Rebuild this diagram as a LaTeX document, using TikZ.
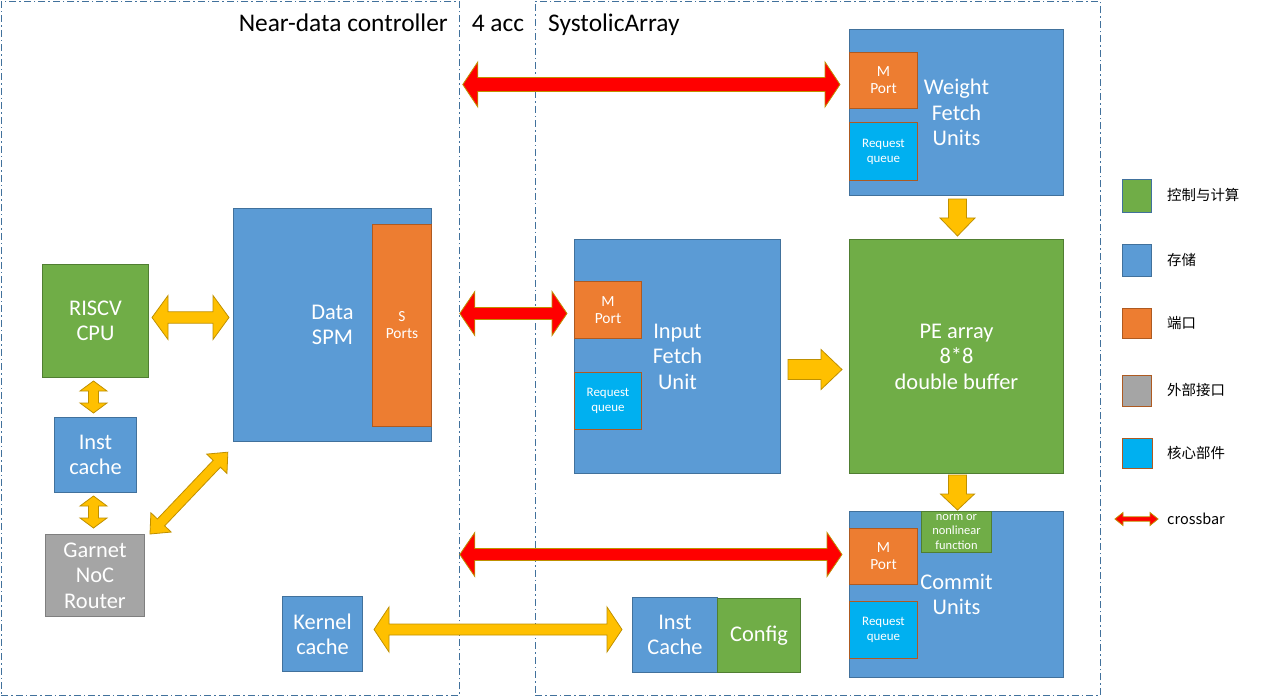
\documentclass[tikz,border=0pt]{standalone}
\usepackage{fontspec}
\setmainfont{Carlito}
\newfontfamily\cjk{Noto Sans CJK SC}
\usetikzlibrary{calc}
\definecolor{cblue}{HTML}{5B9BD5}
\definecolor{cblueb}{HTML}{41719C}
\definecolor{cgreen}{HTML}{70AD47}
\definecolor{cgreenb}{HTML}{507E32}
\definecolor{corange}{HTML}{ED7D31}
\definecolor{coranb}{HTML}{AE5A21}
\definecolor{cgray}{HTML}{A5A5A5}
\definecolor{cgrayb}{HTML}{7F7F7F}
\definecolor{ccyan}{HTML}{00B0F0}
\definecolor{cyel}{HTML}{FFC000}
\definecolor{cyelb}{HTML}{BF9000}
\definecolor{cred}{HTML}{FF0000}
\newcommand\dblarrow[6]{%
  \coordinate (bas) at (#2);
  \coordinate (bae) at (#3);
  \path let \p1=($(bae)-(bas)$) in \pgfextra{\pgfmathsetmacro\baang{atan2(\y1,\x1)}\pgfmathsetmacro\balen{veclen(\x1,\y1)}\global\let\gbaang\baang\global\let\gbalen\balen};
  \draw[#1, shift={(bas)}, rotate=\gbaang] (0pt,0pt) -- (#6bp,#5bp) -- (#6bp,#4bp) -- ({\gbalen pt-#6bp},#4bp) -- ({\gbalen pt-#6bp},#5bp) -- (\gbalen pt,0pt) -- ({\gbalen pt-#6bp},-#5bp) -- ({\gbalen pt-#6bp},-#4bp) -- (#6bp,-#4bp) -- (#6bp,-#5bp) -- cycle;
}
\newcommand\snglarrow[6]{%
  \coordinate (bas) at (#2);
  \coordinate (bae) at (#3);
  \path let \p1=($(bae)-(bas)$) in \pgfextra{\pgfmathsetmacro\baang{atan2(\y1,\x1)}\pgfmathsetmacro\balen{veclen(\x1,\y1)}\global\let\gbaang\baang\global\let\gbalen\balen};
  \draw[#1, shift={(bas)}, rotate=\gbaang] (0pt,#4bp) -- ({\gbalen pt-#6bp},#4bp) -- ({\gbalen pt-#6bp},#5bp) -- (\gbalen pt,0pt) -- ({\gbalen pt-#6bp},-#5bp) -- ({\gbalen pt-#6bp},-#4bp) -- (0pt,-#4bp) -- cycle;
}
\begin{document}
\begin{tikzpicture}[x=1bp,y=-1bp,
  box/.style={draw, line width=1bp, anchor=north west, inner sep=0pt, text=white, align=center, font=\fontsize{22.5}{25.5}\selectfont},
  bluebox/.style={box, fill=cblue, draw=cblueb},
  greenbox/.style={box, fill=cgreen, draw=cgreenb},
  orangebox/.style={box, fill=corange, draw=coranb},
  graybox/.style={box, fill=cgray, draw=cgrayb},
  cyanbox/.style={box, fill=ccyan, draw=coranb},
  portbox/.style={orangebox, font=\fontsize{15.5}{17}\selectfont},
  queuebox/.style={cyanbox, font=\fontsize{13}{15}\selectfont},
  smalltext/.style={inner sep=0pt, text=white, align=center, font=\fontsize{12.5}{14.5}\selectfont},
  region/.style={draw=cblueb, line width=0.8bp, dash pattern=on 7bp off 3bp on 1.5bp off 3bp, anchor=north west, inner sep=0pt},
  header/.style={inner sep=0pt, font=\fontsize{25.5}{28}\selectfont},
  legbox/.style={draw, line width=1bp, anchor=north west, inner sep=0pt},
  legtext/.style={inner sep=0pt, anchor=west, font=\cjk\fontsize{14.5}{17}\selectfont},
  yarrow/.style={fill=cyel, draw=cyelb, line width=0.8bp},
  rarrow/.style={fill=cred, draw=cyelb, line width=0.8bp}]
\useasboundingbox (0,0) rectangle (1275,696);
\fill[white] (0,0) rectangle (1275,696);
% regions
\node[region, minimum width=458bp, minimum height=694bp] (ndc) at (1,1) {};
\node[region, minimum width=565bp, minimum height=694bp] (sys) at (535,1) {};
\node[header, anchor=base east] (hndc) at (448,32) {Near-data controller};
\node[header, anchor=base] (hacc) at (498,32) {4 acc};
\node[header, anchor=base west] (hsys) at (548,32) {SystolicArray};
% near-data controller
\node[greenbox, minimum width=106bp, minimum height=113bp] (cpu) at (42,264) {RISCV\\CPU};
\node[bluebox, minimum width=82bp, minimum height=75bp] (icache) at (54,417) {Inst\\cache};
\node[graybox, minimum width=99bp, minimum height=82bp] (garnet) at (45,534) {Garnet\\NoC\\Router};
\node[bluebox, minimum width=198bp, minimum height=233bp] (spm) at (233,208) {Data\\SPM};
\node[portbox, minimum width=59bp, minimum height=202bp] (sport) at (372,224) {S\\Ports};
\node[bluebox, minimum width=80bp, minimum height=75bp] (kcache) at (282,596) {Kernel\\cache};
% systolic array
\node[bluebox, minimum width=214bp, minimum height=166bp] (wfu) at (849,29) {Weight\\Fetch\\Units};
\node[portbox, minimum width=68bp, minimum height=56bp] (wport) at (849,52) {M\\Port};
\node[queuebox, minimum width=68bp, minimum height=58bp] (wq) at (849,122) {Request\\queue};
\node[greenbox, minimum width=214bp, minimum height=234bp] (pe) at (849,239) {PE array\\8*8\\double buffer};
\node[bluebox, minimum width=206bp, minimum height=234bp] (ifu) at (574,239) {Input\\Fetch\\Unit};
\node[portbox, minimum width=67bp, minimum height=57bp] (iport) at (574,281) {M\\Port};
\node[queuebox, minimum width=67bp, minimum height=57bp] (iq) at (574,372) {Request\\queue};
\node[bluebox, minimum width=214bp, minimum height=166bp] (cu) at (849,511) {Commit\\Units};
\node[greenbox, minimum width=70bp, minimum height=41bp] (norm) at (921,511) {};
\node[smalltext] (normt) at (norm.center) {norm or\\nonlinear\\function};
\node[portbox, minimum width=68bp, minimum height=56bp] (cport) at (849,528) {M\\Port};
\node[queuebox, minimum width=68bp, minimum height=57bp] (cq) at (849,601) {Request\\queue};
\node[bluebox, minimum width=85bp, minimum height=75bp] (icc) at (632,597) {Inst\\Cache};
\node[greenbox, minimum width=83bp, minimum height=74bp] (cfg) at (717,598) {Config};
% arrows
\dblarrow{rarrow}{$(ndc.east |- wport.west)+(3,4)$}{$(wport.west)+(-9,4)$}{7}{22.5}{15}
\dblarrow{rarrow}{$(ndc.east |- iport.west)+(0,3.5)$}{$(iport.west)+(-7,3.5)$}{6}{22}{15}
\dblarrow{rarrow}{$(ndc.east |- cport.west)+(0,-2)$}{$(cport.west)+(-7,-2)$}{6}{22}{15}
\dblarrow{yarrow}{$(cpu.east)+(3,-3.5)$}{$(spm.west |- cpu.east)+(-4,-3.5)$}{5.7}{22}{16}
\dblarrow{yarrow}{$(cpu.south)+(-2,3)$}{$(icache.north)+(-2,-4)$}{5}{13.5}{10}
\dblarrow{yarrow}{$(icache.south)+(-2,3)$}{$(garnet.north)+(-1.5,-6)$}{5}{13.5}{10}
\dblarrow{yarrow}{$(garnet.north east)+(5,0)$}{$(spm.south west)+(-5,10)$}{5}{14}{16}
\dblarrow{yarrow}{$(kcache.east)+(11,-4.5)$}{$(icc.west)+(-10,-5.5)$}{5.5}{22.5}{15}
\snglarrow{yarrow}{$(wfu.south)+(1,3)$}{$(pe.north)+(1,-3)$}{9}{17.5}{18}
\snglarrow{yarrow}{$(ifu.east)+(7,13)$}{$(pe.west)+(-7,13)$}{10}{20}{21}
\snglarrow{yarrow}{$(pe.south)+(1,1)$}{$(cu.north)+(1,-1)$}{9}{17}{16}
% legend
\node[legbox, fill=cgreen, draw=cblueb, minimum width=29bp, minimum height=33bp] (lg1) at (1122,179) {};
\node[legbox, fill=cblue, draw=cblueb, minimum width=29bp, minimum height=32bp] (lg2) at (1122,244) {};
\node[legbox, fill=corange, draw=coranb, minimum width=29bp, minimum height=30bp] (lg3) at (1122,308) {};
\node[legbox, fill=cgray, draw=coranb, minimum width=29bp, minimum height=31bp] (lg4) at (1122,375) {};
\node[legbox, fill=ccyan, draw=coranb, minimum width=30bp, minimum height=30bp] (lg5) at (1122,438) {};
\node[legtext] (lt1) at (1167,195) {控制与计算};
\node[legtext] (lt2) at (1167,260) {存储};
\node[legtext] (lt3) at (1167,323) {端口};
\node[legtext] (lt4) at (1167,390) {外部接口};
\node[legtext] (lt5) at (1167,453) {核心部件};
\node[legtext] (lt6) at (1167,519) {crossbar};
\coordinate (lga) at (1115,519);
\coordinate (lgb) at (1158,519);
\dblarrow{rarrow}{lga}{lgb}{2.2}{6.5}{8}
\end{tikzpicture}
\end{document}
